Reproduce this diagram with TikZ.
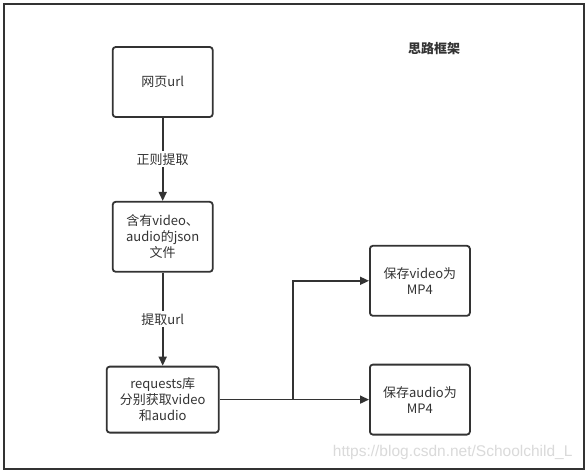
\documentclass[tikz,border=0pt]{standalone}
\usepackage{fontspec}
\setmainfont{Noto Sans CJK SC}
\newfontfamily\markfont{Liberation Sans}
\usetikzlibrary{positioning,arrows.meta,calc}
\definecolor{inkgray}{HTML}{333333}
\definecolor{markgray}{HTML}{DADADA}

\tikzset{
  stepbox/.style={draw=inkgray, line width=1.8pt, fill=white, rounded corners=3pt,
    minimum width=100pt, minimum height=70pt, align=center, text=inkgray,
    inner sep=2pt},
  flow/.style={draw=inkgray, line width=1.6pt, -{Triangle[length=9pt,width=8pt]}},
  edgetext/.style={fill=white, text=inkgray, inner sep=2pt}
}

\begin{document}
\begin{tikzpicture}[x=1pt, y=-1pt, node distance=1cm,
    font=\fontsize{13}{16}\selectfont]
  \useasboundingbox (0,0) rectangle (588,473);
  \fill[white] (0,0) rectangle (588,473);
  \draw[inkgray, line width=2pt] (3.5,4) rectangle (583.5,469);

  \node[text=inkgray, font=\fontsize{13}{16}\selectfont\bfseries] (title) at (434,49) {思路框架};

  \node[stepbox] (page) at (162.7,82) {网页url};
  \node[stepbox, below=83pt of page] (json)
        {含有video、\\audio的json\\文件};
  \node[stepbox, minimum width=112pt, minimum height=66pt, below=93pt of json] (req)
        {requests库\\分别获取video\\和audio};
  \node[stepbox, right=149.4pt of req] (saveaudio) {保存audio为\\MP4};
  \node[stepbox, above=47pt of saveaudio] (savevideo) {保存video为\\MP4};
  \coordinate (fork) at ($(req.east)!0.49!(saveaudio.west)$);

  \draw[flow] (page) -- node[edgetext] {正则提取} (json);
  \draw[flow] (json) -- node[edgetext] {提取url} (req);
  \draw[flow] (req.east) -- (saveaudio.west);
  \draw[flow] (fork) |- (savevideo.west);

  \node[anchor=east, text=markgray, font=\markfont\fontsize{15.5}{18}\selectfont] (mark) at (576,452)
        {https://blog.csdn.net/Schoolchild\_L};
\end{tikzpicture}
\end{document}
